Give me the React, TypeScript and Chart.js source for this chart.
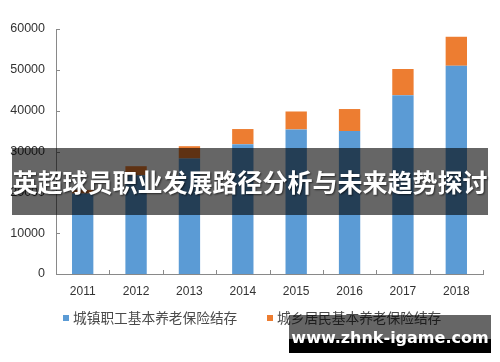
import React, { useEffect, useRef } from "react";
import { Chart, registerables } from "chart.js";

Chart.register(...registerables);

const years = ["2011", "2012", "2013", "2014", "2015", "2016", "2017", "2018"];
const urbanEmployee = [19700, 24200, 28300, 31800, 35400, 35000, 43800, 51000];
const urbanRural = [900, 2200, 3000, 3700, 4400, 5400, 6400, 7100];
const seriesNames = ["城镇职工基本养老保险结存", "城乡居民基本养老保险结存"];
const seriesColors = ["#5B9BD5", "#ED7D31"];
const yTicks = [0, 10000, 20000, 30000, 40000, 50000, 60000];
const bannerText = "英超球员职业发展路径分析与未来趋势探讨";
const watermarkText = "www.zhnk-igame.com";

const AXIS_COLOR = "#898989";

const innerTicks = {
  id: "innerTicks",
  afterDatasetsDraw(chart: any) {
    const { ctx, chartArea, scales } = chart;
    const y = scales.y;
    ctx.save();
    ctx.strokeStyle = AXIS_COLOR;
    ctx.lineWidth = 1;
    ctx.beginPath();
    yTicks.forEach((v) => {
      const py = Math.round(y.getPixelForValue(v)) + 0.5;
      ctx.moveTo(chartArea.left, py);
      ctx.lineTo(chartArea.left + 4, py);
    });
    for (let i = 0; i <= years.length; i++) {
      const px = Math.round(chartArea.left + (i * (chartArea.right - chartArea.left)) / years.length) + 0.5;
      ctx.moveTo(px, chartArea.bottom);
      ctx.lineTo(px, chartArea.bottom - 4);
    }
    ctx.stroke();
    ctx.restore();
  },
};

const customLegend = {
  id: "customLegend",
  afterDraw(chart: any) {
    const { ctx } = chart;
    const starts = [63, 267];
    const cy = 318;
    ctx.save();
    ctx.font = "13.7px 'Noto Sans CJK SC'";
    ctx.textBaseline = "middle";
    chart.data.datasets.forEach((ds: any, i: number) => {
      const x0 = starts[i];
      ctx.fillStyle = ds.backgroundColor;
      ctx.fillRect(x0, cy - 3, 6, 6);
      ctx.fillStyle = "#4a4a4a";
      ctx.fillText(ds.label, x0 + 10, cy);
    });
    ctx.restore();
  },
};

export default function App() {
  const ref = useRef<HTMLCanvasElement>(null);
  useEffect(() => {
    if (!ref.current) return;
    const chart = new Chart(ref.current, {
      type: "bar",
      data: {
        labels: years,
        datasets: [
          { label: seriesNames[0], data: urbanEmployee, backgroundColor: seriesColors[0] },
          { label: seriesNames[1], data: urbanRural, backgroundColor: seriesColors[1] },
        ],
      },
      options: {
        animation: false,
        responsive: false,
        maintainAspectRatio: false,
        layout: { padding: { left: 0, top: 29, right: 17, bottom: 0 } },
        datasets: { bar: { categoryPercentage: 1, barPercentage: 0.4 } },
        plugins: { legend: { display: false }, tooltip: { enabled: false } },
        scales: {
          x: {
            stacked: true,
            grid: { display: false, drawTicks: false },
            border: { display: true, color: AXIS_COLOR, width: 1 },
            ticks: { color: "#333", font: { family: "'Liberation Sans'", size: 12 }, padding: 10 },
            afterFit: (s: any) => {
              s.height = 88;
            },
          },
          y: {
            stacked: true,
            min: 0,
            max: 60000,
            grid: { display: false, drawTicks: false },
            border: { display: true, color: AXIS_COLOR, width: 1 },
            ticks: {
              stepSize: 10000,
              color: "#333",
              font: { family: "'Liberation Sans'", size: 12.5 },
              padding: 11,
              callback: (v: any) => String(v),
            },
            afterFit: (s: any) => {
              s.width = 56;
            },
          },
        },
      },
      plugins: [innerTicks, customLegend],
    });
    return () => chart.destroy();
  }, []);

  return (
    <div style={{ position: "absolute", left: 0, top: 0, width: 500, height: 362, background: "#fff", overflow: "hidden" }}>
      <canvas ref={ref} width={500} height={362} style={{ position: "absolute", left: 0, top: 0 }} />
      <div
        style={{
          position: "absolute",
          left: 12,
          top: 148,
          width: 476,
          height: 67,
          background: "rgba(0,0,0,0.6)",
          color: "#fff",
          fontFamily: "'Noto Sans CJK SC'",
          fontWeight: 700,
          fontSize: 25,
          lineHeight: "67px",
          textAlign: "center",
          whiteSpace: "nowrap",
          textShadow: "1px 1px 2px rgba(0,0,0,0.6)",
        }}
      >
        {bannerText}
      </div>
      <div style={{ position: "absolute", left: 289, top: 315, width: 202, height: 24, background: "rgba(0,0,0,0.6)" }} />
      <div style={{ position: "absolute", left: 289, top: 339, width: 202, height: 14, background: "#000" }} />
      <div
        style={{
          position: "absolute",
          left: 289,
          top: 315,
          width: 202,
          height: 38,
          color: "#fff",
          fontFamily: "'DejaVu Sans'",
          fontWeight: 700,
          fontSize: 16,
          lineHeight: "46px",
          textAlign: "center",
          whiteSpace: "nowrap",
        }}
      >
        {watermarkText}
      </div>
    </div>
  );
}
